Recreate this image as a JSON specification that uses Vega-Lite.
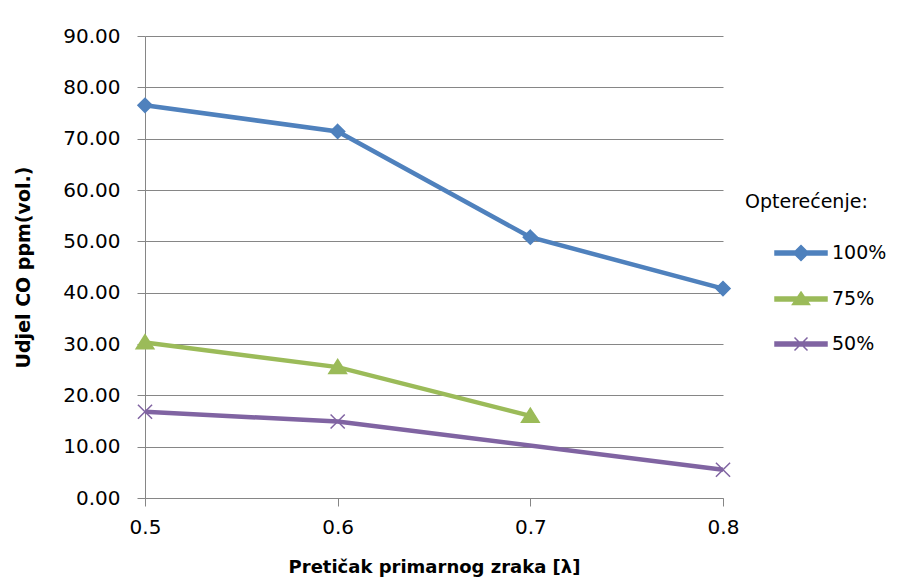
{
  "$schema": "https://vega.github.io/schema/vega-lite/v6.json",
  "width": 578,
  "height": 462,
  "autosize": "none",
  "padding": {"left": 145, "top": 36, "right": 179, "bottom": 80},
  "background": "white",
  "config": {
    "view": {"stroke": null},
    "font": "DejaVu Sans",
    "legend": {
      "orient": "none",
      "legendX": 600,
      "legendY": 157,
      "titleFont": "DejaVu Sans",
      "titleFontSize": 19,
      "titleFontWeight": "normal",
      "titleColor": "#000000",
      "titlePadding": 30,
      "labelFont": "DejaVu Sans",
      "labelFontSize": 19,
      "labelColor": "#000000",
      "symbolSize": 400,
      "symbolStrokeWidth": 1.5,
      "symbolOpacity": 1,
      "symbolOffset": 45,
      "labelOffset": 20,
      "rowPadding": 24
    }
  },
  "data": {
    "values": [
      {"series": "100%", "x": 0.5, "y": 76.5},
      {"series": "100%", "x": 0.6, "y": 71.4},
      {"series": "100%", "x": 0.7, "y": 50.8},
      {"series": "100%", "x": 0.8, "y": 40.8},
      {"series": "75%", "x": 0.5, "y": 30.3},
      {"series": "75%", "x": 0.6, "y": 25.5},
      {"series": "75%", "x": 0.7, "y": 16.0},
      {"series": "50%", "x": 0.5, "y": 16.8},
      {"series": "50%", "x": 0.6, "y": 14.9},
      {"series": "50%", "x": 0.8, "y": 5.5}
    ]
  },
  "encoding": {
    "x": {
      "field": "x",
      "type": "quantitative",
      "scale": {"domain": [0.5, 0.8], "nice": false, "zero": false},
      "axis": {
        "values": [0.5, 0.6, 0.7, 0.8],
        "format": ".1f",
        "grid": false,
        "title": "Pretičak primarnog zraka  [λ]",
        "titleFont": "DejaVu Sans",
        "titleFontSize": 18,
        "titleFontWeight": "bold",
        "titleColor": "#000000",
        "titlePadding": 21,
        "labelFont": "DejaVu Sans",
        "labelFontSize": 20,
        "labelColor": "#000000",
        "labelPadding": 11,
        "labelFlush": false,
        "domainColor": "#868686",
        "domainWidth": 1,
        "tickColor": "#868686",
        "tickSize": 8
      }
    },
    "y": {
      "field": "y",
      "type": "quantitative",
      "scale": {"domain": [0, 90], "nice": false},
      "axis": {
        "values": [0, 10, 20, 30, 40, 50, 60, 70, 80, 90],
        "format": ".2f",
        "grid": true,
        "gridColor": "#868686",
        "gridWidth": 1,
        "title": "Udjel CO  ppm(vol.)",
        "titleFont": "DejaVu Sans",
        "titleFontSize": 19,
        "titleFontWeight": "bold",
        "titleColor": "#000000",
        "titlePadding": 29,
        "labelFont": "DejaVu Sans",
        "labelFontSize": 20,
        "labelColor": "#000000",
        "labelPadding": 17,
        "domainColor": "#868686",
        "domainWidth": 1,
        "tickColor": "#868686",
        "tickSize": 8
      }
    }
  },
  "layer": [
    {
      "mark": {"type": "line", "strokeWidth": 4.5},
      "encoding": {
        "color": {
          "field": "series",
          "type": "nominal",
          "scale": {"domain": ["100%", "75%", "50%"], "range": ["#4F81BD", "#9BBB59", "#8064A2"]},
          "legend": null
        }
      }
    },
    {
      "mark": {"type": "point", "filled": true, "opacity": 1, "strokeWidth": 1.5, "size": 200},
      "encoding": {
        "fill": {
          "field": "series",
          "type": "nominal",
          "scale": {"domain": ["100%", "75%", "50%"], "range": ["#4F81BD", "#9BBB59", "#8064A2"]},
          "legend": null
        },
        "stroke": {
          "field": "series",
          "type": "nominal",
          "scale": {"domain": ["100%", "75%", "50%"], "range": ["#4F81BD", "#9BBB59", "#8064A2"]},
          "legend": null
        },
        "shape": {
          "field": "series",
          "type": "nominal",
          "scale": {
            "domain": ["100%", "75%", "50%"],
            "range": [
              "M0,-1L1,0L0,1L-1,0Z",
              "M0,-1.1L1.25,0.9L-1.25,0.9Z",
              "M-1,-1L1,1M1,-1L-1,1"
            ]
          },
          "legend": null
        }
      }
    },
    {
      "mark": {"type": "point", "filled": true, "opacity": 0, "strokeWidth": 1.5, "size": 400},
      "encoding": {
        "fill": {
          "field": "series",
          "type": "nominal",
          "scale": {"domain": ["100%", "75%", "50%"], "range": ["#4F81BD", "#9BBB59", "#8064A2"]},
          "legend": {"title": "Opterećenje:"}
        },
        "stroke": {
          "field": "series",
          "type": "nominal",
          "scale": {"domain": ["100%", "75%", "50%"], "range": ["#4F81BD", "#9BBB59", "#8064A2"]},
          "legend": {"title": "Opterećenje:"}
        },
        "shape": {
          "field": "series",
          "type": "nominal",
          "scale": {
            "domain": ["100%", "75%", "50%"],
            "range": [
              "M-2.6,-0.2H2.6V0.2H-2.6ZM0,-0.75L0.75,0L0,0.75L-0.75,0Z",
              "M-2.6,-0.2H2.6V0.2H-2.6ZM0,-0.7L0.85,0.55L-0.85,0.55Z",
              "M-2.6,-0.2H2.6V0.2H-2.6ZM-0.65,-0.65L0.65,0.65M0.65,-0.65L-0.65,0.65"
            ]
          },
          "legend": {"title": "Opterećenje:"}
        }
      }
    }
  ],
  "resolve": {"scale": {"shape": "independent", "fill": "independent", "stroke": "independent"}}
}
